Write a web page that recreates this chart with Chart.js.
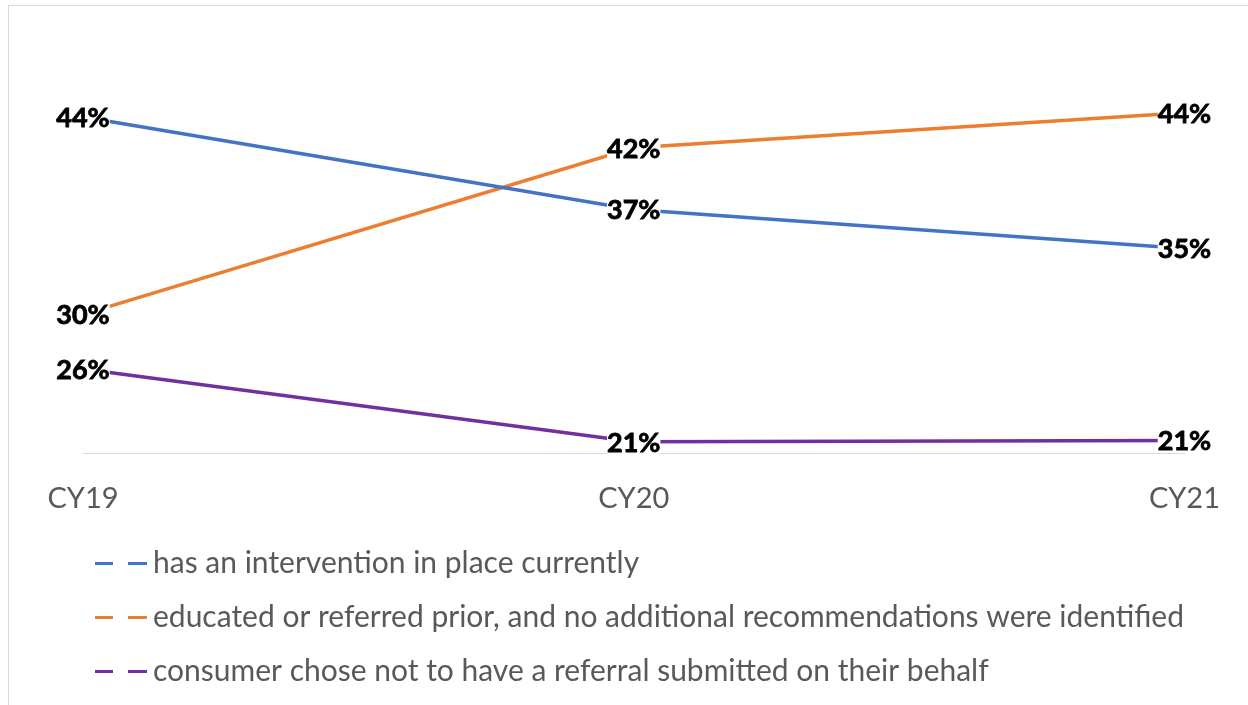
<!DOCTYPE html>
<html>
<head>
<meta charset="utf-8">
<script src="https://cdn.jsdelivr.net/npm/chart.js@4/dist/chart.umd.min.js"></script>
<style>
  html, body { margin: 0; padding: 0; background: #ffffff; }
  #frame { position: absolute; left: 8px; top: 5px; width: 1300px; height: 800px; border: 1px solid #d9d9d9; box-sizing: border-box; }
  #wrap { position: absolute; left: 0; top: 0; width: 1248px; height: 705px; }
</style>
</head>
<body>
<div id="frame"></div>
<div id="wrap"><canvas id="c" width="1248" height="705"></canvas></div>
<script>
const categories = ['CY19', 'CY20', 'CY21'];
const seriesNames = [
  'has an intervention in place currently',
  'educated or referred prior, and no additional recommendations were identified',
  'consumer chose not to have a referral submitted on their behalf'
];
const interventionValues = [44.0, 37.4, 34.6];
const educatedValues = [29.9, 41.8, 44.3];
const consumerValues = [26.0, 20.8, 20.9];
const seriesColors = ['#4472C4', '#ED7D31', '#7030A0'];

function legendSymbol(color) {
  const cv = document.createElement('canvas');
  cv.width = 55; cv.height = 3;
  const g = cv.getContext('2d');
  g.fillStyle = color;
  g.fillRect(0, 0, 18, 3);
  g.fillRect(33, 0, 19, 3);
  return cv;
}

const dataLabelPlugin = {
  id: 'dataLabels',
  afterDatasetsDraw(chart) {
    const ctx = chart.ctx;
    ctx.save();
    ctx.font = 'bold 27px Lato';
    ctx.textAlign = 'center';
    ctx.textBaseline = 'middle';
    ctx.lineWidth = 0.8;
    ctx.strokeStyle = '#000000';
    chart.data.datasets.forEach((ds, di) => {
      const meta = chart.getDatasetMeta(di);
      meta.data.forEach((pt, i) => {
        const txt = Math.round(ds.data[i]) + '%';
        const w = ctx.measureText(txt).width;
        ctx.fillStyle = '#ffffff';
        ctx.fillRect(pt.x - w / 2, pt.y - 12, w, 24);
        ctx.fillStyle = '#000000';
        ctx.fillText(txt, pt.x, pt.y + 1);
        ctx.strokeText(txt, pt.x, pt.y + 1);
      });
    });
    ctx.restore();
  }
};

const valueLists = [interventionValues, educatedValues, consumerValues];
new Chart(document.getElementById('c'), {
  type: 'line',
  data: {
    labels: categories,
    datasets: valueLists.map((vals, k) => ({
      label: seriesNames[k],
      data: vals,
      borderColor: seriesColors[k],
      backgroundColor: seriesColors[k],
      borderWidth: 3.5,
      pointRadius: 0,
      pointHoverRadius: 0,
      pointStyle: legendSymbol(seriesColors[k]),
      tension: 0,
      fill: false
    }))
  },
  options: {
    responsive: false,
    animation: false,
    events: [],
    layout: { padding: { left: 83, right: 61, top: 33, bottom: 9 } },
    scales: {
      x: {
        offset: false,
        grid: { display: false, drawTicks: false },
        border: { display: true, color: '#d9d9d9', width: 1 },
        ticks: { color: '#595959', font: { family: 'Lato', size: 29 }, padding: 28, maxRotation: 0 },
        afterFit(scale) { scale.height = 71; }
      },
      y: { display: false, min: 20, max: 50 }
    },
    plugins: {
      legend: {
        position: 'bottom',
        align: 'start',
        labels: {
          usePointStyle: true,
          pointStyleWidth: 31,
          color: '#595959',
          font: { family: 'Lato', size: 30 },
          padding: 24
        }
      },
      tooltip: { enabled: false }
    }
  },
  plugins: [dataLabelPlugin]
});
</script>
</body>
</html>
